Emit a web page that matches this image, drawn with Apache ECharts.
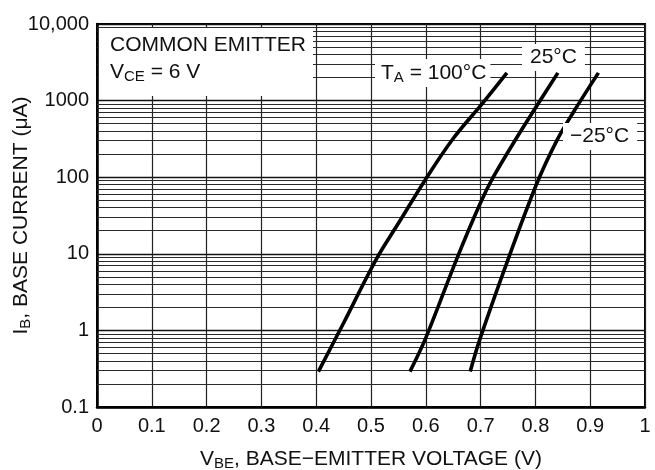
<!DOCTYPE html>
<html><head><meta charset="utf-8">
<script src="https://cdn.jsdelivr.net/npm/echarts@6/dist/echarts.min.js"></script>
<style>html,body{margin:0;padding:0;background:#fff}#c{width:655px;height:470px}</style>
</head><body><div id="c"></div>
<script>
// ---- data ----
const xTickValues = [0, 0.1, 0.2, 0.3, 0.4, 0.5, 0.6, 0.7, 0.8, 0.9, 1];
const yDecades = [0.1, 1, 10, 100, 1000, 10000];
const yTickLabels = ['0.1', '1', '10', '100', '1000', '10,000'];
const minorMultipliers = [2, 3, 4, 5, 6, 7, 8, 9];
// V_BE (V), I_B (uA)
const curve100 = [[0.404,0.29],[0.45,1.25],[0.51,8.6],[0.55,25],[0.60,95],[0.65,320],[0.705,950],[0.748,2300]];
const curve25  = [[0.571,0.29],[0.60,0.8],[0.6565,8.6],[0.699,45],[0.723,100],[0.765,320],[0.80,800],[0.841,2300]];
const curveM25 = [[0.681,0.29],[0.699,0.78],[0.7505,8.6],[0.8024,82],[0.839,300],[0.869,700],[0.915,2300]];
const curveLabels = ['T{s|A} = 100°C', '25°C', '−25°C'];
const noteLines = ['COMMON EMITTER', 'V{s|CE} = 6 V'];

// ---- chart ----
const FONT = 'Liberation Sans, Arial, Helvetica, sans-serif';
const subRich = { s: { fontSize: 15, fontFamily: FONT, padding: [9, 0, 0, 0], color: '#111' } };
const minorLines = [];
for (let i = 0; i < yDecades.length - 1; i++) {
  minorMultipliers.forEach(m => minorLines.push({ yAxis: yDecades[i] * m }));
}
const chart = echarts.init(document.getElementById('c'));
const curveSeries = (data) => ({
  type: 'line', data, symbol: 'none', smooth: 0.35, z: 10,
  lineStyle: { color: '#000', width: 3.6 }, silent: true
});
chart.setOption({
  animation: false,
  backgroundColor: '#fff',
  textStyle: { fontFamily: FONT },
  grid: { left: 97, top: 24, right: 10, bottom: 63, outerBoundsMode: 'none', containLabel: false,
    show: true, borderColor: '#000', borderWidth: 2, backgroundColor: 'transparent' },
  xAxis: {
    type: 'value', min: 0, max: 1, interval: 0.1,
    axisLine: { lineStyle: { color: '#000', width: 2.5 } },
    axisTick: { show: false },
    axisLabel: { fontSize: 20, color: '#111', margin: 9, fontFamily: FONT,
      formatter: v => { const t = xTickValues.find(x => Math.abs(x - v) < 1e-6); return t === undefined ? '' : String(t); } },
    splitLine: { show: true, lineStyle: { color: '#222', width: 1.2 } },
    name: 'V{s|BE}, BASE−EMITTER VOLTAGE (V)', nameLocation: 'middle', nameGap: 40, nameMoveOverlap: false,
    nameTextStyle: { fontSize: 21, color: '#111', fontFamily: FONT, rich: subRich }
  },
  yAxis: {
    type: 'log', logBase: 10, min: 0.1, max: 10000,
    axisLine: { show: true, lineStyle: { color: '#000', width: 2.5 } },
    axisTick: { show: false },
    axisLabel: { fontSize: 20, color: '#111', margin: 8, fontFamily: FONT,
      formatter: v => { const i = yDecades.findIndex(d => Math.abs(Math.log10(d) - Math.log10(v)) < 1e-6); return i < 0 ? '' : yTickLabels[i]; } },
    splitLine: { show: true, lineStyle: { color: '#111', width: 1.3 } },
    minorTick: { show: false }, minorSplitLine: { show: false },
    name: 'I{s|B}, BASE CURRENT (μA)', nameLocation: 'middle', nameGap: 64, nameMoveOverlap: false,
    nameTextStyle: { fontSize: 21, color: '#111', fontFamily: FONT, rich: subRich }
  },
  series: [
    { type: 'line', data: [], silent: true, z: 1,
      markLine: { silent: true, symbol: 'none', label: { show: false },
        lineStyle: { color: '#2a2a2a', width: 1, type: 'solid' }, data: minorLines } },
    curveSeries(curve100),
    curveSeries(curve25),
    curveSeries(curveM25)
  ],
  graphic: [
    { type: 'rect', z: 50, shape: { x: 99, y: 28, width: 214, height: 68 }, style: { fill: '#fff' } },
    { type: 'text', z: 51, x: 110, y: 35, style: { text: noteLines[0], font: '21px ' + FONT, fill: '#111' } },
    { type: 'text', z: 51, x: 110, y: 60, style: { text: noteLines[1], font: '21px ' + FONT, fill: '#111', rich: subRich } },
    { type: 'text', z: 51, x: 375, y: 59, style: { text: curveLabels[0], font: '21px ' + FONT, fill: '#111', rich: subRich, backgroundColor: '#fff', padding: [2, 4, 2, 6] } },
    { type: 'text', z: 51, x: 522, y: 44, style: { text: curveLabels[1], font: '21px ' + FONT, fill: '#111', backgroundColor: '#fff', padding: [3, 8, 3, 8] } },
    { type: 'text', z: 51, x: 563, y: 123, style: { text: curveLabels[2], font: '21px ' + FONT, fill: '#111', backgroundColor: '#fff', padding: [3, 8, 3, 7] } }
  ]
});
</script></body></html>
